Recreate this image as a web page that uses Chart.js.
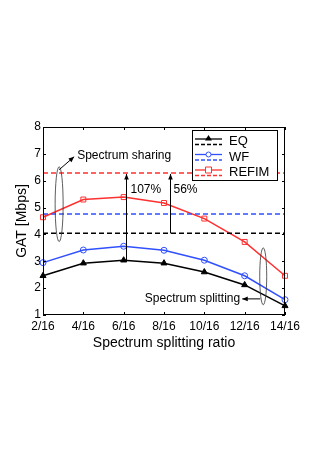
<!DOCTYPE html>
<html>
<head>
<meta charset="utf-8">
<script src="https://cdn.jsdelivr.net/npm/chart.js@4.4.1/dist/chart.umd.min.js"></script>
<style>
    html, body { margin: 0; padding: 0; background: #fff; }
    #wrap { width: 332px; height: 470px; position: relative; }
</style>
</head>
<body>
<div id="wrap"><canvas id="gatChart"></canvas></div>
<script>
const ratioLabels = ['2/16', '4/16', '6/16', '8/16', '10/16', '12/16', '14/16'];
const eqValues = [2.46, 2.93, 3.04, 2.93, 2.60, 2.12, 1.34];
const wfValues = [2.95, 3.42, 3.56, 3.41, 3.04, 2.46, 1.57];
const refimValues = [4.64, 5.30, 5.39, 5.17, 4.59, 3.72, 2.46];
// spectrum sharing levels (dashed)
const eqSharing = 4.04;
const wfSharing = 4.76;
const refimSharing = 6.29;
const yTicks = [1, 2, 3, 4, 5, 6, 7, 8];

const black = '#000000';
const blue = '#3050ff';
const red = '#ff3030';
const font = 'Arial, "Liberation Sans", sans-serif';

const flat = (v) => ratioLabels.map(() => v);

const arrow = (ctx, x1, y1, x2, y2, size) => {
    const ang = Math.atan2(y2 - y1, x2 - x1);
    ctx.beginPath();
    ctx.moveTo(x1, y1);
    ctx.lineTo(x2, y2);
    ctx.stroke();
    ctx.beginPath();
    ctx.moveTo(x2, y2);
    ctx.lineTo(x2 - size * Math.cos(ang - 0.4), y2 - size * Math.sin(ang - 0.4));
    ctx.lineTo(x2 - size * Math.cos(ang + 0.4), y2 - size * Math.sin(ang + 0.4));
    ctx.closePath();
    ctx.fill();
};

const decorations = {
    id: 'decorations',
    afterDatasetsDraw(chart) {
        const { ctx, chartArea: a, scales: { x, y } } = chart;
        const xAt = (i) => x.left + (x.right - x.left) * i / (ratioLabels.length - 1);
        ctx.save();

        // box and inward ticks
        ctx.strokeStyle = black;
        ctx.lineWidth = 1;
        ctx.strokeRect(a.left + 0.5, a.top + 0.5, a.right - a.left - 1, a.bottom - a.top - 1);
        ctx.beginPath();
        yTicks.forEach((t) => {
            const py = Math.round(y.getPixelForValue(t)) + 0.5;
            ctx.moveTo(a.left, py); ctx.lineTo(a.left + 3, py);
            ctx.moveTo(a.right, py); ctx.lineTo(a.right - 3, py);
        });
        ratioLabels.forEach((_, i) => {
            const px = Math.round(x.getPixelForValue(i)) + 0.5;
            ctx.moveTo(px, a.bottom); ctx.lineTo(px, a.bottom - 3);
            ctx.moveTo(px, a.top); ctx.lineTo(px, a.top + 3);
        });
        ctx.stroke();

        // gain arrows
        ctx.fillStyle = black;
        ctx.lineWidth = 1;
        const x107 = Math.round(xAt(2) + 2) + 0.5;
        arrow(ctx, x107, y.getPixelForValue(eqValues[2]), x107, y.getPixelForValue(refimSharing) + 1, 6);
        const x56 = Math.round(xAt(3.16)) + 0.5;
        arrow(ctx, x56, y.getPixelForValue(eqSharing), x56, y.getPixelForValue(refimSharing) + 1, 6);
        ctx.font = '12px ' + font;
        ctx.textBaseline = 'middle';
        ctx.fillText('107%', x107 + 4, y.getPixelForValue(5.65));
        ctx.fillText('56%', x56 + 3, y.getPixelForValue(5.65));

        // ellipses
        ctx.strokeStyle = '#333';
        ctx.lineWidth = 0.8;
        const shareTop = y.getPixelForValue(6.52);
        const shareBot = y.getPixelForValue(3.73);
        const shareX = xAt(0.4);
        ctx.beginPath();
        ctx.ellipse(shareX, (shareTop + shareBot) / 2, 4, (shareBot - shareTop) / 2, 0, 0, Math.PI * 2);
        ctx.stroke();
        const splitTop = y.getPixelForValue(3.5);
        const splitBot = y.getPixelForValue(1.38);
        const splitX = xAt(5.46);
        ctx.beginPath();
        ctx.ellipse(splitX, (splitTop + splitBot) / 2, 3.5, (splitBot - splitTop) / 2, 0, 0, Math.PI * 2);
        ctx.stroke();

        ctx.strokeStyle = black;
        ctx.lineWidth = 1;
        arrow(ctx, shareX, shareTop + 3, shareX + 15, shareTop - 10, 6);
        ctx.fillText('Spectrum sharing', shareX + 18, shareTop - 11);
        const splitY = y.getPixelForValue(1.6);
        arrow(ctx, splitX - 3, splitY, splitX - 21, splitY, 6);
        ctx.textAlign = 'right';
        ctx.fillText('Spectrum splitting', splitX - 23, splitY);

        // legend with solid + dashed samples
        const lx = 192, ly = 130, lw = 85, lh = 50;
        ctx.fillStyle = '#fff';
        ctx.fillRect(lx, ly, lw, lh);
        ctx.strokeStyle = black;
        ctx.lineWidth = 1;
        ctx.strokeRect(lx + 0.5, ly + 0.5, lw, lh);
        ctx.font = '13px ' + font;
        ctx.textAlign = 'left';
        const entries = [['EQ', black, 'triangle'], ['WF', blue, 'circle'], ['REFIM', red, 'rect']];
        entries.forEach(([name, color, marker], i) => {
            const cy = ly + 9 + i * 15.5;
            ctx.strokeStyle = color;
            ctx.lineWidth = 1.3;
            ctx.setLineDash([]);
            ctx.beginPath(); ctx.moveTo(lx + 3, cy); ctx.lineTo(lx + 30, cy); ctx.stroke();
            ctx.setLineDash([4, 2]);
            ctx.beginPath(); ctx.moveTo(lx + 3, cy + 5.5); ctx.lineTo(lx + 30, cy + 5.5); ctx.stroke();
            ctx.setLineDash([]);
            const mx = lx + 16.5;
            ctx.lineWidth = 1;
            ctx.beginPath();
            if (marker === 'triangle') {
                ctx.fillStyle = color;
                ctx.moveTo(mx, cy - 4); ctx.lineTo(mx + 3.5, cy + 1.5); ctx.lineTo(mx - 3.5, cy + 1.5); ctx.closePath();
                ctx.fill();
            } else if (marker === 'circle') {
                ctx.fillStyle = '#fff';
                ctx.arc(mx, cy, 2.5, 0, Math.PI * 2);
                ctx.fill(); ctx.stroke();
            } else {
                ctx.fillStyle = '#fff';
                ctx.rect(mx - 3, cy - 3, 6, 6);
                ctx.fill(); ctx.stroke();
            }
            ctx.fillStyle = black;
            ctx.textBaseline = 'middle';
            ctx.fillText(name, lx + 37, cy + 2.5);
        });
        ctx.restore();
    },
};

const solid = (label, data, color, pointStyle, radius, fill) => ({
    label,
    data,
    borderColor: color,
    backgroundColor: fill,
    borderWidth: 1.5,
    pointStyle,
    pointRadius: radius,
    pointBorderWidth: 1,
    pointBorderColor: color,
    pointBackgroundColor: fill,
    tension: 0,
});

const dashed = (label, value, color) => ({
    label,
    data: flat(value),
    borderColor: color,
    borderWidth: 1.5,
    borderDash: [5, 3],
    pointRadius: 0,
});

new Chart(document.getElementById('gatChart'), {
    type: 'line',
    data: {
        labels: ratioLabels,
        datasets: [
            dashed('EQ sharing', eqSharing, black),
            dashed('WF sharing', wfSharing, blue),
            dashed('REFIM sharing', refimSharing, red),
            solid('EQ', eqValues, black, 'triangle', 3.5, black),
            solid('WF', wfValues, blue, 'circle', 3, 'rgba(255,255,255,0)'),
            solid('REFIM', refimValues, red, 'rect', 3.5, 'rgba(255,255,255,0)'),
        ],
    },
    options: {
        responsive: true,
        maintainAspectRatio: false,
        animation: false,
        layout: { padding: { left: 14, right: 47, top: 127, bottom: 118 } },
        plugins: { legend: { display: false }, tooltip: { enabled: false } },
        scales: {
            x: {
                offset: false,
                grid: { display: false, drawTicks: false },
                border: { display: false },
                ticks: { color: black, font: { family: font, size: 12 }, padding: 4, maxRotation: 0, autoSkip: false },
                title: { display: true, text: 'Spectrum splitting ratio', color: black, font: { family: font, size: 14 }, padding: { top: 2, bottom: 0 } },
                afterFit: (scale) => { scale.width = scale.width; scale.height = 37; },
            },
            y: {
                min: 1,
                max: 8,
                grid: { display: false, drawTicks: false },
                border: { display: false },
                ticks: { stepSize: 1, color: black, font: { family: font, size: 12 }, padding: 2 },
                title: { display: true, text: 'GAT [Mbps]', color: black, font: { family: font, size: 14 }, padding: { top: 0, bottom: 4 } },
                afterFit: (scale) => { scale.width = 29; },
            },
        },
    },
    plugins: [decorations],
});
</script>
</body>
</html>
